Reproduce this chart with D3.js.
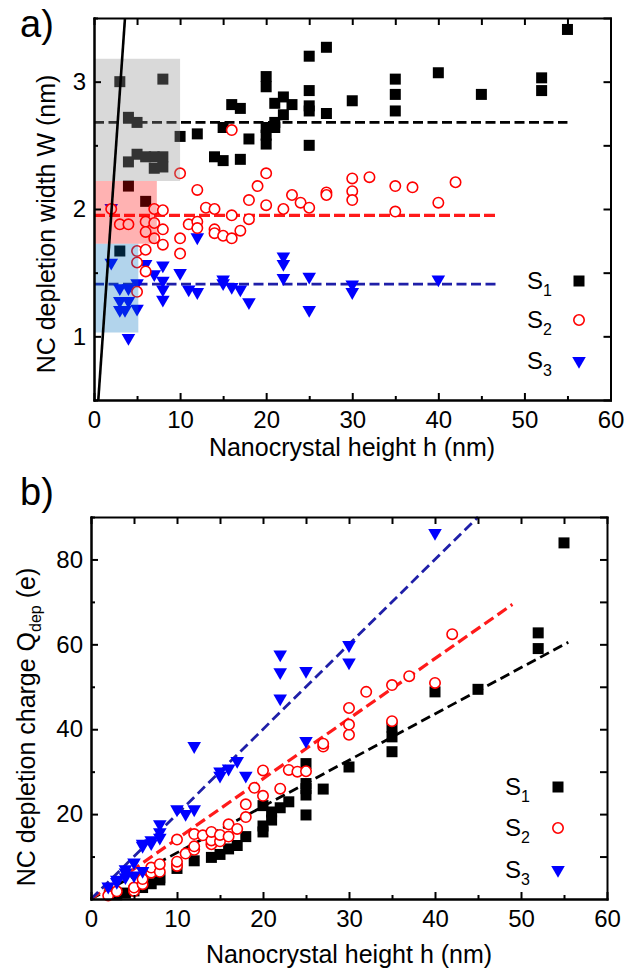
<!DOCTYPE html>
<html>
<head>
<meta charset="utf-8">
<title>NC depletion width and charge</title>
<script src="https://d3js.org/d3.v7.min.js"></script>
<style>
  body { margin: 0; background: #fff; }
  svg text { font-family: "Liberation Sans", Arial, sans-serif; fill: #000; }
  .axis path, .axis line { stroke: #000; stroke-width: 2; }
  .axis text { font-size: 24px; }
</style>
</head>
<body>
<div id="chart"></div>
<script>
// ---- data, panel a: depletion width W (nm) vs height h (nm) ----
var s1W = [[3,3.0],[8,3.02],[4,2.72],[5,2.68],[4,2.37],[5,2.43],[6,2.41],[7,2.41],[8,2.41],[7,2.32],
  [8,2.33],[10,2.57],[12,2.59],[14,2.41],[15,2.38],[16,2.82],[17,2.79],[15,2.64],[17,2.39],[18,2.55],
  [20,3.04],[20,2.96],[20,2.64],[20,2.58],[20,2.51],[21,2.83],[22,2.88],[23,2.82],[22,2.74],[21,2.68],
  [21,2.64],[25,3.2],[25,2.93],[25,2.81],[25,2.77],[25,2.5],[27,3.27],[27,2.75],[30,2.85],[35,3.02],
  [35,2.9],[35,2.77],[40,3.07],[45,2.9],[52,3.03],[52,2.93],[55,3.41],[4,2.18],[6,2.06],[3,1.67]];
var s2W = [[2,2.0],[3,1.88],[4,1.88],[5,1.67],[5,1.58],[5,1.35],[6,1.9],[6,1.82],[6,1.68],[6,1.51],
  [7,2.0],[7,1.89],[7,1.77],[8,1.99],[8,1.84],[8,1.72],[10,2.28],[10,1.77],[10,1.65],[11,1.88],
  [12,2.15],[12,1.9],[12,1.85],[13,2.01],[14,2.0],[14,1.84],[14,1.81],[15,1.79],[16,2.62],[16,1.95],
  [16,1.77],[17,1.83],[18,2.07],[18,1.92],[19,2.18],[20,2.28],[20,2.03],[22,2.0],[23,2.11],[24,2.05],
  [25,2.01],[27,2.13],[27,2.11],[30,2.24],[30,2.14],[30,2.07],[32,2.25],[35,2.18],[35,1.98],[37,2.17],
  [40,2.05],[42,2.21]];
var s3W = [[2,2.0],[2,1.57],[3,1.37],[4,1.37],[5,1.41],[3,1.27],[4,1.27],[3,1.2],[3.6,1.2],[5,1.21],
  [4,0.98],[6,1.56],[7,1.48],[8,1.55],[8,1.43],[8,1.36],[8,1.28],[10,1.49],[11,1.36],[12,1.34],
  [12,1.77],[15,1.44],[15,1.41],[16,1.38],[17,1.36],[18,1.26],[22,1.62],[22,1.56],[22,1.45],[25,1.46],
  [25,1.2],[30,1.4],[30,1.34],[40,1.44]];
var fitW1 = [[0,2.68],[55,2.68]];
var fitW2 = [[0,1.95],[47,1.95]];
var fitW3 = [[0,1.41],[47,1.41]];
var lineWh = [[0.5,0.5],[3.6,3.5]];
// shaded ranges: [hMin, hMax, wMin, wMax]
var box1 = [0, 10, 2.22, 3.18];
var box2 = [0, 7.3, 1.727, 2.22];
var box3 = [0, 5.15, 1.03, 1.727];

// ---- data, panel b: depletion charge Q (e) vs height h (nm) ----
var s1Q = [[3,1.0],[4,1.4],[5,1.9],[6,2.7],[7,3.6],[8,4.5],[8,5.0],[10,7.2],[12,9.0],[14,9.8],
  [15,10.5],[16,11.8],[17,12.6],[18,14.7],[20,15.8],[20,17.2],[20,22.0],[21,18.6],[21,20.5],[22,21.5],
  [23,22.9],[25,19.8],[25,24.5],[25,26],[25,27.2],[25,31.9],[27,25.9],[30,31.1],[35,34.7],[35,38.2],
  [35,40.5],[40,48.8],[45,49.4],[52,59],[52,62.7],[55,83.9]];
var s2Q = [[2,0.8],[3,1.8],[5,1.9],[5,2.7],[6,3.5],[6,4.7],[7,6.2],[7,7.4],[8,6.4],[8,8.2],
  [10,7.8],[10,8.8],[10,14.0],[11,10.7],[12,11.6],[12,12.4],[12,15.3],[13,15.0],[14,12.9],[14,13.8],
  [14,15.8],[15,13.6],[15,15.1],[16,14.7],[16,17.6],[17,16.5],[18,19.3],[18,22.3],[19,26.2],[20,24.3],
  [20,30.3],[22,26],[23,30.4],[24,30],[25,30.1],[27,35.9],[27,36.6],[30,38.7],[30,41.1],[30,45],
  [32,48.8],[35,41.9],[35,50.4],[37,52.5],[40,50.9],[42,62.4]];
var s3Q = [[2,2.7],[3,3.8],[3,4.3],[4,4.9],[4,6.0],[4,6.8],[5,5.3],[5,8.4],[6,6.4],[6,12.3],
  [6,12.8],[7,12.9],[7,13.6],[8,14.2],[8,15.5],[8,17.4],[10,20.9],[11,19.8],[12,20.9],[12,35.8],
  [15,28.8],[15,29.8],[16,30.5],[17,32.3],[18,28.8],[22,47],[22,53.2],[22,57.4],[25,37],[25,53.5],
  [30,55.5],[30,59.6],[40,86]];
var fitQ1 = [[0,0],[55.5,60.5]];
var fitQ2 = [[0,0],[49,69.4]];
var fitQ3 = [[0,0],[45,90]];

var xTicks = [0,10,20,30,40,50,60];
var xMinor = [5,15,25,35,45,55];
var wTicks = [1,2,3];
var wMinor = [0.5,1.5,2.5,3.5];
var qTicks = [20,40,60,80];
var qMinor = [10,30,50,70,90];
var legendNames = ["1","2","3"];

var svg = d3.select("#chart").append("svg")
  .attr("width", 637).attr("height", 971);

var fmt = d3.format("d");

function addAxes(g, x, y, yTicks, yMinor) {
  var x0 = x.range()[0], x1 = x.range()[1], y0 = y.range()[0], y1 = y.range()[1];
  g.append("g").attr("class", "axis").attr("transform", "translate(0," + y0 + ")")
    .call(d3.axisBottom(x).tickValues(xTicks).tickFormat(fmt).tickSize(-7).tickSizeOuter(0).tickPadding(11));
  g.append("g").attr("class", "axis").attr("transform", "translate(0," + y0 + ")")
    .call(d3.axisBottom(x).tickValues(xMinor).tickSize(-4).tickSizeOuter(0).tickFormat(""));
  g.append("g").attr("class", "axis").attr("transform", "translate(0," + y1 + ")")
    .call(d3.axisTop(x).tickValues(xTicks.concat(xMinor)).tickSize(-7).tickSizeOuter(0).tickFormat(""));
  g.append("g").attr("class", "axis").attr("transform", "translate(" + x0 + ",0)")
    .call(d3.axisLeft(y).tickValues(yTicks).tickFormat(fmt).tickSize(-7).tickSizeOuter(0).tickPadding(8));
  g.append("g").attr("class", "axis").attr("transform", "translate(" + x0 + ",0)")
    .call(d3.axisLeft(y).tickValues(yMinor).tickSize(-4).tickSizeOuter(0).tickFormat(""));
  g.append("g").attr("class", "axis").attr("transform", "translate(" + x1 + ",0)")
    .call(d3.axisRight(y).tickValues(yTicks.concat(yMinor)).tickSize(-7).tickSizeOuter(0).tickFormat(""));
  g.selectAll(".axis .domain").attr("stroke-linecap", "square");
}

function fitLine(g, x, y, data, color, width, dash) {
  g.append("path").datum(data)
    .attr("d", d3.line().x(function(d) { return x(d[0]); }).y(function(d) { return y(d[1]); }))
    .attr("fill", "none").attr("stroke", color).attr("stroke-width", width)
    .attr("stroke-dasharray", dash);
}

var sq = d3.symbol().type(d3.symbolSquare).size(121);
var tri = d3.symbol().type(d3.symbolTriangle).size(80);
var circR = 5.2;

function drawSquares(g, x, y, data) {
  g.append("g").selectAll("path").data(data).join("path")
    .attr("d", sq).attr("transform", function(d) { return "translate(" + x(d[0]) + "," + y(d[1]) + ")"; })
    .attr("fill", "#000");
}
function drawCircles(g, x, y, data) {
  g.append("g").selectAll("circle").data(data).join("circle")
    .attr("cx", function(d) { return x(d[0]); }).attr("cy", function(d) { return y(d[1]); })
    .attr("r", circR).attr("fill", "#fff").attr("stroke", "#ff0000").attr("stroke-width", 1.6);
}
function drawTriangles(g, x, y, data) {
  g.append("g").selectAll("path").data(data).join("path")
    .attr("d", tri).attr("transform", function(d) { return "translate(" + x(d[0]) + "," + (y(d[1]) - 1) + ") rotate(180)"; })
    .attr("fill", "#0000ff");
}

function legend(g, tx, mx, ys) {
  legendNames.forEach(function(n, i) {
    var t = g.append("text").attr("x", tx).attr("y", ys[i] + 8).style("font-size", "24px").text("S");
    t.append("tspan").attr("dy", 7).style("font-size", "16px").text(n);
  });
  g.append("path").attr("d", sq).attr("transform", "translate(" + mx + "," + ys[0] + ")").attr("fill", "#000");
  g.append("circle").attr("cx", mx).attr("cy", ys[1]).attr("r", circR)
    .attr("fill", "#fff").attr("stroke", "#ff0000").attr("stroke-width", 1.6);
  g.append("path").attr("d", tri).attr("transform", "translate(" + mx + "," + ys[2] + ") rotate(180)").attr("fill", "#0000ff");
}

// ================= panel a =================
var xA = d3.scaleLinear().domain([0, 60]).range([94, 610.5]);
var yA = d3.scaleLinear().domain([0.5, 3.5]).range([400, 18]);
var ga = svg.append("g");

fitLine(ga, xA, yA, fitW1, "#000", 2.8, "10,4.5");
fitLine(ga, xA, yA, fitW2, "#ff1a1a", 3.2, "11,4");
fitLine(ga, xA, yA, fitW3, "#1f1fa8", 2.8, "10,4.5");
drawSquares(ga, xA, yA, s1W);
drawTriangles(ga, xA, yA, s3W);
drawCircles(ga, xA, yA, s2W);

[[box1, "#929292", 0.35], [box2, "#ff0000", 0.3], [box3, "#0070c0", 0.3]].forEach(function(b) {
  var r = b[0];
  ga.append("rect")
    .attr("x", xA(r[0])).attr("width", xA(r[1]) - xA(r[0]))
    .attr("y", yA(r[3])).attr("height", yA(r[2]) - yA(r[3]))
    .attr("fill", b[1]).attr("fill-opacity", b[2]);
});

ga.append("path").datum(lineWh)
  .attr("d", d3.line().x(function(d) { return xA(d[0]); }).y(function(d) { return yA(d[1]); }))
  .attr("stroke", "#000").attr("stroke-width", 2.6).attr("fill", "none");

addAxes(ga, xA, yA, wTicks, wMinor);
legend(ga, 527, 579, [281, 320, 361]);

ga.append("text").attr("x", 20).attr("y", 37).style("font-size", "38px").text("a)");
ga.append("text").attr("transform", "translate(55,224) rotate(-90)")
  .attr("text-anchor", "middle").style("font-size", "25px").text("NC depletion width W (nm)");
ga.append("text").attr("x", 352).attr("y", 456)
  .attr("text-anchor", "middle").style("font-size", "25px").text("Nanocrystal height h (nm)");

// ================= panel b =================
var xB = d3.scaleLinear().domain([0, 60]).range([91, 607]);
var yB = d3.scaleLinear().domain([0, 90]).range([899, 517]);
var gb = svg.append("g");

fitLine(gb, xB, yB, fitQ1, "#000", 2.8, "10,5");
fitLine(gb, xB, yB, fitQ2, "#ff1a1a", 3.2, "11,5");
fitLine(gb, xB, yB, fitQ3, "#1f1fa8", 2.8, "10,5");
drawSquares(gb, xB, yB, s1Q);
drawCircles(gb, xB, yB, s2Q);
drawTriangles(gb, xB, yB, s3Q);

addAxes(gb, xB, yB, qTicks, qMinor);
legend(gb, 505, 558, [787, 828, 870]);

gb.append("text").attr("x", 20).attr("y", 505).style("font-size", "38px").text("b)");
var yt = gb.append("text").attr("transform", "translate(35,727) rotate(-90)")
  .attr("text-anchor", "middle").style("font-size", "25px").text("NC depletion charge Q");
yt.append("tspan").attr("dy", 6).style("font-size", "16px").text("dep");
yt.append("tspan").attr("dy", -6).text(" (e)");
gb.append("text").attr("x", 349).attr("y", 963)
  .attr("text-anchor", "middle").style("font-size", "25px").text("Nanocrystal height h (nm)");
</script>
</body>
</html>
